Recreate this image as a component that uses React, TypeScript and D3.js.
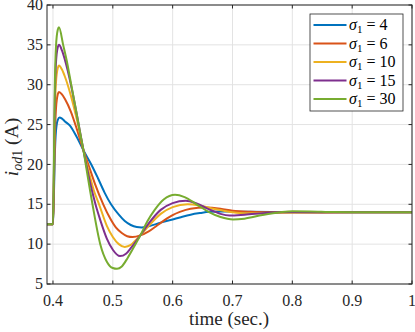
import * as d3 from "d3";

const SIGMAS = [4, 6, 10, 15, 30];
const COLORS = ["#0072BD", "#D95319", "#EDB120", "#7E2F8E", "#77AC30"];

const T_4 = [0.39, 0.4, 0.4015, 0.403, 0.405, 0.408, 0.411, 0.415, 0.42, 0.428, 0.44, 0.451, 0.464, 0.475, 0.486, 0.497, 0.51, 0.52, 0.53, 0.54, 0.548, 0.56, 0.58, 0.6, 0.612, 0.63, 0.646, 0.662, 0.68, 0.7, 0.73, 0.8, 0.9, 1.0];
const I_4 = [12.5, 12.5, 16, 21, 24.2, 25.6, 25.9, 25.75, 25.4, 24.9, 23.4, 21.75, 20, 18.3, 16.5, 15, 13.7, 12.9, 12.4, 12.15, 12.1, 12.25, 12.7, 13.1, 13.35, 13.7, 13.9, 14.05, 14.1, 14.1, 14.05, 14.0, 14.0, 14.0];

const T_6 = [0.39, 0.4, 0.4015, 0.403, 0.405, 0.408, 0.41, 0.415, 0.42, 0.43, 0.44, 0.451, 0.46, 0.47, 0.484, 0.495, 0.505, 0.515, 0.524, 0.533, 0.546, 0.56, 0.575, 0.59, 0.6, 0.612, 0.63, 0.655, 0.68, 0.7, 0.73, 0.76, 0.8, 0.9, 1.0];
const I_6 = [12.5, 12.5, 17, 23, 27, 28.8, 29.1, 28.8, 28.2, 26.6, 24.4, 21.75, 19.8, 17.6, 15, 13.3, 12.1, 11.4, 11.0, 10.9, 11.1, 11.6, 12.4, 13.2, 13.65, 14.05, 14.45, 14.6, 14.45, 14.2, 14.05, 14.0, 13.97, 14.0, 14.0];

const T_10 = [0.39, 0.4, 0.4015, 0.403, 0.405, 0.408, 0.41, 0.415, 0.42, 0.43, 0.44, 0.451, 0.46, 0.468, 0.477, 0.49, 0.5, 0.51, 0.52, 0.53, 0.537, 0.546, 0.56, 0.58, 0.6, 0.625, 0.645, 0.67, 0.7, 0.72, 0.75, 0.8, 0.9, 1.0];
const I_10 = [12.5, 12.5, 18, 26, 30.3, 32.1, 32.4, 31.9, 31, 28.6, 25.6, 21.75, 19.0, 16.8, 15, 12.3, 10.9, 10.0, 9.65, 9.9, 10.4, 11.1, 12.3, 13.8, 14.65, 15.0, 14.85, 14.4, 14.0, 13.88, 13.9, 14.0, 14.0, 14.0];

const T_15 = [0.39, 0.4, 0.4015, 0.403, 0.405, 0.408, 0.41, 0.415, 0.42, 0.43, 0.44, 0.451, 0.46, 0.471, 0.48, 0.49, 0.5, 0.512, 0.522, 0.53, 0.546, 0.56, 0.58, 0.6, 0.622, 0.64, 0.66, 0.68, 0.695, 0.72, 0.76, 0.8, 0.9, 1.0];
const I_15 = [12.5, 12.5, 19, 28, 32.8, 34.7, 35.0, 34.3, 33.1, 30, 26.2, 21.75, 18.4, 15, 12.8, 10.7, 9.3, 8.5, 8.8, 9.5, 11.1, 12.6, 14.3, 15.15, 15.45, 15.1, 14.4, 13.8, 13.6, 13.7, 13.95, 14.02, 14.0, 14.0];

const T_30 = [0.39, 0.4, 0.4015, 0.403, 0.405, 0.408, 0.41, 0.417, 0.423, 0.43, 0.438, 0.445, 0.451, 0.455, 0.466, 0.479, 0.49, 0.5, 0.507, 0.515, 0.525, 0.535, 0.546, 0.558, 0.57, 0.585, 0.604, 0.62, 0.64, 0.66, 0.68, 0.701, 0.72, 0.75, 0.78, 0.8, 0.83, 0.87, 0.92, 1.0];
const I_30 = [12.5, 12.5, 20, 29.5, 34.8, 36.9, 37.2, 35, 33, 30.2, 27, 24.1, 21.75, 19.9, 15, 10, 7.8, 7.0, 6.9, 7.2, 8.3, 9.6, 11.1, 12.9, 14.3, 15.6, 16.2, 15.9, 15.0, 14.05, 13.4, 13.1, 13.2, 13.65, 14.0, 14.12, 14.1, 14.02, 14.0, 14.0];

const TIMES = [T_4, T_6, T_10, T_15, T_30];
const CURRENTS = [I_4, I_6, I_10, I_15, I_30];

const X_TICKS = [0.4, 0.5, 0.6, 0.7, 0.8, 0.9, 1];
const Y_TICKS = [5, 10, 15, 20, 25, 30, 35, 40];

const W = 415, H = 332;
const L = 47, R = 412, T = 5, B = 284;
const FONT = "'Liberation Serif', 'DejaVu Serif', serif";
const AX = "#262626";

export default function App() {
  const x = d3.scaleLinear().domain([0.39, 1]).range([L, R]);
  const y = d3.scaleLinear().domain([5, 40]).range([B, T]);
  const line = d3.line<[number, number]>()
    .x(d => x(d[0]))
    .y(d => y(d[1]))
    .curve(d3.curveMonotoneX);

  const series = SIGMAS.map((s, k) => ({
    sigma: s,
    color: COLORS[k],
    pts: TIMES[k].map((t, i) => [t, CURRENTS[k][i]] as [number, number]),
  }));

  const legX = 310, legY = 14, legW = 93, legH = 97, rowH = 18.5;

  return (
    <svg width={W} height={H} style={{ position: "absolute", left: 0, top: 0, background: "#fff" }}>
      <defs>
        <clipPath id="plot">
          <rect x={L} y={T} width={R - L} height={B - T} />
        </clipPath>
      </defs>
      <rect x={0} y={0} width={W} height={H} fill="#fff" />

      {/* grid */}
      {X_TICKS.map(t => (
        <line key={"gx" + t} x1={x(t)} x2={x(t)} y1={T} y2={B} stroke="#e3e3e3" strokeWidth={1} />
      ))}
      {Y_TICKS.map(t => (
        <line key={"gy" + t} x1={L} x2={R} y1={y(t)} y2={y(t)} stroke="#e3e3e3" strokeWidth={1} />
      ))}

      {/* curves */}
      <g clipPath="url(#plot)">
        {series.map(s => (
          <path key={s.sigma} d={line(s.pts) || ""} fill="none" stroke={s.color} strokeWidth={2} strokeLinejoin="round" />
        ))}
      </g>

      {/* box and ticks */}
      <rect x={L} y={T} width={R - L} height={B - T} fill="none" stroke={AX} strokeWidth={1} />
      <g style={{ fontFamily: FONT }} fill={AX} fontSize={16}>
        {X_TICKS.map(t => (
          <g key={"tx" + t}>
            <line x1={x(t)} x2={x(t)} y1={B} y2={B - 3.5} stroke={AX} />
            <line x1={x(t)} x2={x(t)} y1={T} y2={T + 3.5} stroke={AX} />
            <text x={x(t)} y={306} textAnchor="middle">{String(t)}</text>
          </g>
        ))}
        {Y_TICKS.map(t => (
          <g key={"ty" + t}>
            <line x1={L} x2={L + 3.5} y1={y(t)} y2={y(t)} stroke={AX} />
            <line x1={R} x2={R - 3.5} y1={y(t)} y2={y(t)} stroke={AX} />
            <text x={43} y={y(t) + 5.2} textAnchor="end">{t}</text>
          </g>
        ))}

        {/* axis labels */}
        <text x={229} y={325} fontSize={19} textAnchor="middle">time (sec.)</text>
        <text transform="translate(18,147) rotate(-90)" fontSize={19.5} textAnchor="middle">
          <tspan fontStyle="italic">i</tspan>
          <tspan fontSize={14} dy={3.5}><tspan fontStyle="italic">od</tspan>1</tspan>
          <tspan dy={-3.5}> (A)</tspan>
        </text>
      </g>

      {/* legend */}
      <rect x={legX} y={legY} width={legW} height={legH} fill="#fff" stroke={AX} strokeWidth={0.8} />
      {series.map((s, k) => {
        const ry = legY + 11 + k * rowH;
        return (
          <g key={"leg" + s.sigma}>
            <line x1={legX + 3.5} x2={legX + 36.5} y1={ry} y2={ry} stroke={s.color} strokeWidth={2} />
            <text x={legX + 39} y={ry + 5} fontSize={16} fill="#000" style={{ fontFamily: FONT }}>
              <tspan fontStyle="italic">σ</tspan>
              <tspan fontSize={11} dy={3}>1</tspan>
              <tspan dy={-3}> = {s.sigma}</tspan>
            </text>
          </g>
        );
      })}
    </svg>
  );
}
